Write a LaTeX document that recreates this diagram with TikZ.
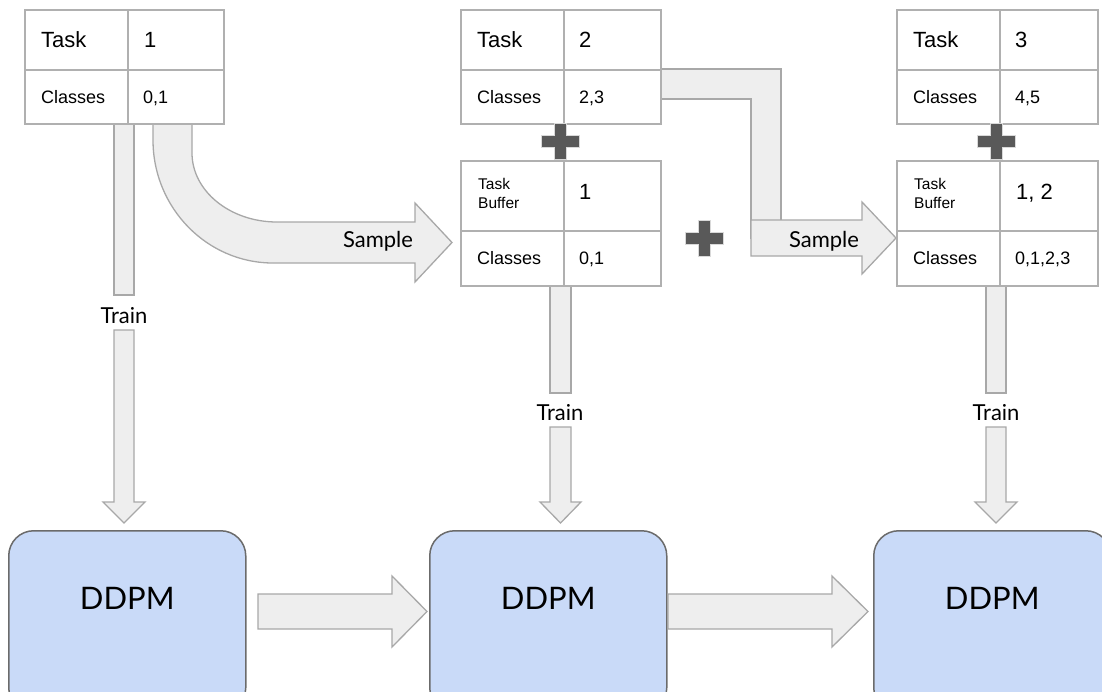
\documentclass[tikz,border=0pt]{standalone}
\usepackage{fontspec}
\setmainfont{Liberation Sans}
\newfontfamily\lato{Lato}
\definecolor{tblline}{HTML}{B0B0B0}
\definecolor{arrfill}{HTML}{EEEEEE}
\definecolor{arrline}{HTML}{A8A8A8}
\definecolor{plusfill}{HTML}{595959}
\definecolor{plusline}{HTML}{D9D9D9}
\definecolor{ddpmfill}{HTML}{C9DAF8}
\definecolor{ddpmline}{HTML}{6B6B6B}
\begin{document}
\begin{tikzpicture}[x=1pt,y=-1pt,
 cell/.style={draw=tblline, line width=1.5pt, inner sep=0pt, anchor=north west, fill=white},
 bigtxt/.style={font=\fontsize{22}{25}\selectfont, anchor=west, inner sep=0pt, text height=15.5pt, text depth=0pt},
 midtxt/.style={font=\fontsize{18}{21}\selectfont, anchor=west, inner sep=0pt, text height=12.8pt, text depth=0pt},
 smalltxt/.style={font=\fontsize{15.5}{19}\selectfont, anchor=north west, inner sep=0pt, align=left},
 blockarrow/.style={fill=arrfill, draw=arrline, line width=1.3pt, line join=miter},
 arrlabel/.style={font=\lato\fontsize{22}{25}\selectfont, inner sep=0pt},
 plus/.style={fill=plusfill, draw=plusline, line width=0.8pt},
 ddpm/.style={fill=ddpmfill, draw=ddpmline, line width=1.5pt, rounded corners=25pt, anchor=north west, inner sep=0pt, minimum width=237pt, minimum height=182pt},
 ddpmtxt/.style={font=\lato\fontsize{31}{34}\selectfont, inner sep=0pt},
 plussign/.pic={\draw[plus] (-6,-18) -- (6,-18) -- (6,-6) -- (19,-6) -- (19,6) -- (6,6) -- (6,18) -- (-6,18) -- (-6,6) -- (-19,6) -- (-19,-6) -- (-6,-6) -- cycle;}
]
\path[use as bounding box] (0,0) rectangle (1102,691);
\clip (0,0) rectangle (1102,691);

% ---------- block arrows (drawn beneath the tables) ----------
% curved Sample arrow from task 1
\draw[blockarrow] (153,123) -- (153,140) .. controls (153,208) and (207,263) .. (273,263) -- (415,263) -- (415,282) -- (452,242.5) -- (415,203) -- (415,222) -- (277,222) .. controls (230,222) and (192,191) .. (192,153) -- (192,123) -- cycle;
\node[arrlabel] (s1) at (378,241) {Sample};

% elbow Sample arrow from task 2
\draw[blockarrow] (660,69) -- (781,69) -- (781,238) -- (751,238) -- (751,99) -- (660,99) -- cycle;
\draw[blockarrow] (751,220) -- (862,220) -- (862,202) -- (896,238) -- (862,274) -- (862,256) -- (751,256) -- cycle;
\node[arrlabel] (s2) at (824,241) {Sample};

% Train arrows
\draw[blockarrow] (114,123) rectangle (134,295);
\draw[blockarrow] (114,330) -- (134,330) -- (134,502) -- (145,502) -- (124,523) -- (103,502) -- (114,502) -- cycle;
\node[arrlabel] (tr1) at (124,316) {Train};

\draw[blockarrow] (550,285) rectangle (571,393);
\draw[blockarrow] (550,427) -- (571,427) -- (571,502) -- (581,502) -- (560.5,523) -- (540,502) -- (550,502) -- cycle;
\node[arrlabel] (tr2) at (560,413) {Train};

\draw[blockarrow] (986,285) rectangle (1006,393);
\draw[blockarrow] (986,427) -- (1006,427) -- (1006,502) -- (1017,502) -- (996,523) -- (975,502) -- (986,502) -- cycle;
\node[arrlabel] (tr3) at (996,413) {Train};

% ---------- tables ----------
% task 1
\node[cell, minimum width=103pt, minimum height=60pt] (t1k) at (24,9) {};
\node[cell, minimum width=96pt, minimum height=60pt] (t1v) at (127,9) {};
\node[cell, minimum width=103pt, minimum height=54pt] (t1c) at (24,69) {};
\node[cell, minimum width=96pt, minimum height=54pt] (t1cv) at (127,69) {};
\node[bigtxt] at ([xshift=17pt]t1k.west) {Task};
\node[bigtxt] at ([xshift=17pt]t1v.west) {1};
\node[midtxt] at ([xshift=17pt]t1c.west) {Classes};
\node[midtxt] at ([xshift=16pt]t1cv.west) {0,1};

% task 2
\node[cell, minimum width=103pt, minimum height=60pt] (t2k) at (460,9) {};
\node[cell, minimum width=97pt, minimum height=60pt] (t2v) at (563,9) {};
\node[cell, minimum width=103pt, minimum height=54pt] (t2c) at (460,69) {};
\node[cell, minimum width=97pt, minimum height=54pt] (t2cv) at (563,69) {};
\node[bigtxt] at ([xshift=17pt]t2k.west) {Task};
\node[bigtxt] at ([xshift=16pt]t2v.west) {2};
\node[midtxt] at ([xshift=17pt]t2c.west) {Classes};
\node[midtxt] at ([xshift=16pt]t2cv.west) {2,3};

% buffer 2
\node[cell, minimum width=103pt, minimum height=70pt] (b2k) at (460,160) {};
\node[cell, minimum width=97pt, minimum height=70pt] (b2v) at (563,160) {};
\node[cell, minimum width=103pt, minimum height=55pt] (b2c) at (460,230) {};
\node[cell, minimum width=97pt, minimum height=55pt] (b2cv) at (563,230) {};
\node[smalltxt] at (478,178.5) {Task\\Buffer};
\node[bigtxt] at ([xshift=16pt,yshift=4.5pt]b2v.west) {1};
\node[midtxt] at ([xshift=17pt]b2c.west) {Classes};
\node[midtxt] at ([xshift=16pt]b2cv.west) {0,1};

% task 3
\node[cell, minimum width=103pt, minimum height=60pt] (t3k) at (896,9) {};
\node[cell, minimum width=98pt, minimum height=60pt] (t3v) at (999,9) {};
\node[cell, minimum width=103pt, minimum height=54pt] (t3c) at (896,69) {};
\node[cell, minimum width=98pt, minimum height=54pt] (t3cv) at (999,69) {};
\node[bigtxt] at ([xshift=17pt]t3k.west) {Task};
\node[bigtxt] at ([xshift=16pt]t3v.west) {3};
\node[midtxt] at ([xshift=17pt]t3c.west) {Classes};
\node[midtxt] at ([xshift=16pt]t3cv.west) {4,5};

% buffer 3
\node[cell, minimum width=103pt, minimum height=70pt] (b3k) at (896,160) {};
\node[cell, minimum width=98pt, minimum height=70pt] (b3v) at (999,160) {};
\node[cell, minimum width=103pt, minimum height=55pt] (b3c) at (896,230) {};
\node[cell, minimum width=98pt, minimum height=55pt] (b3cv) at (999,230) {};
\node[smalltxt] at (914,178.5) {Task\\Buffer};
\node[bigtxt] at ([xshift=17pt,yshift=4.5pt]b3v.west) {1, 2};
\node[midtxt] at ([xshift=17pt]b3c.west) {Classes};
\node[midtxt] at ([xshift=16pt]b3cv.west) {0,1,2,3};

% plus signs
\pic at (560,141) {plussign};
\pic at (704.5,238) {plussign};
\pic at (996.5,141) {plussign};

% ---------- DDPM row ----------
\node[ddpm] (d1) at (8,530) {};
\node[ddpm] (d2) at (429,530) {};
\node[ddpm] (d3) at (873,530) {};
\node[ddpmtxt] at ([yshift=23.5pt]d1.center) {DDPM};
\node[ddpmtxt] at ([yshift=23.5pt]d2.center) {DDPM};
\node[ddpmtxt] at ([yshift=23.5pt]d3.center) {DDPM};

\draw[blockarrow] (258,594) -- (392,594) -- (392,576) -- (427,611.5) -- (392,647) -- (392,629) -- (258,629) -- cycle;
\draw[blockarrow] (668,594) -- (832,594) -- (832,576) -- (868,611.5) -- (832,647) -- (832,629) -- (668,629) -- cycle;
\end{tikzpicture}
\end{document}
